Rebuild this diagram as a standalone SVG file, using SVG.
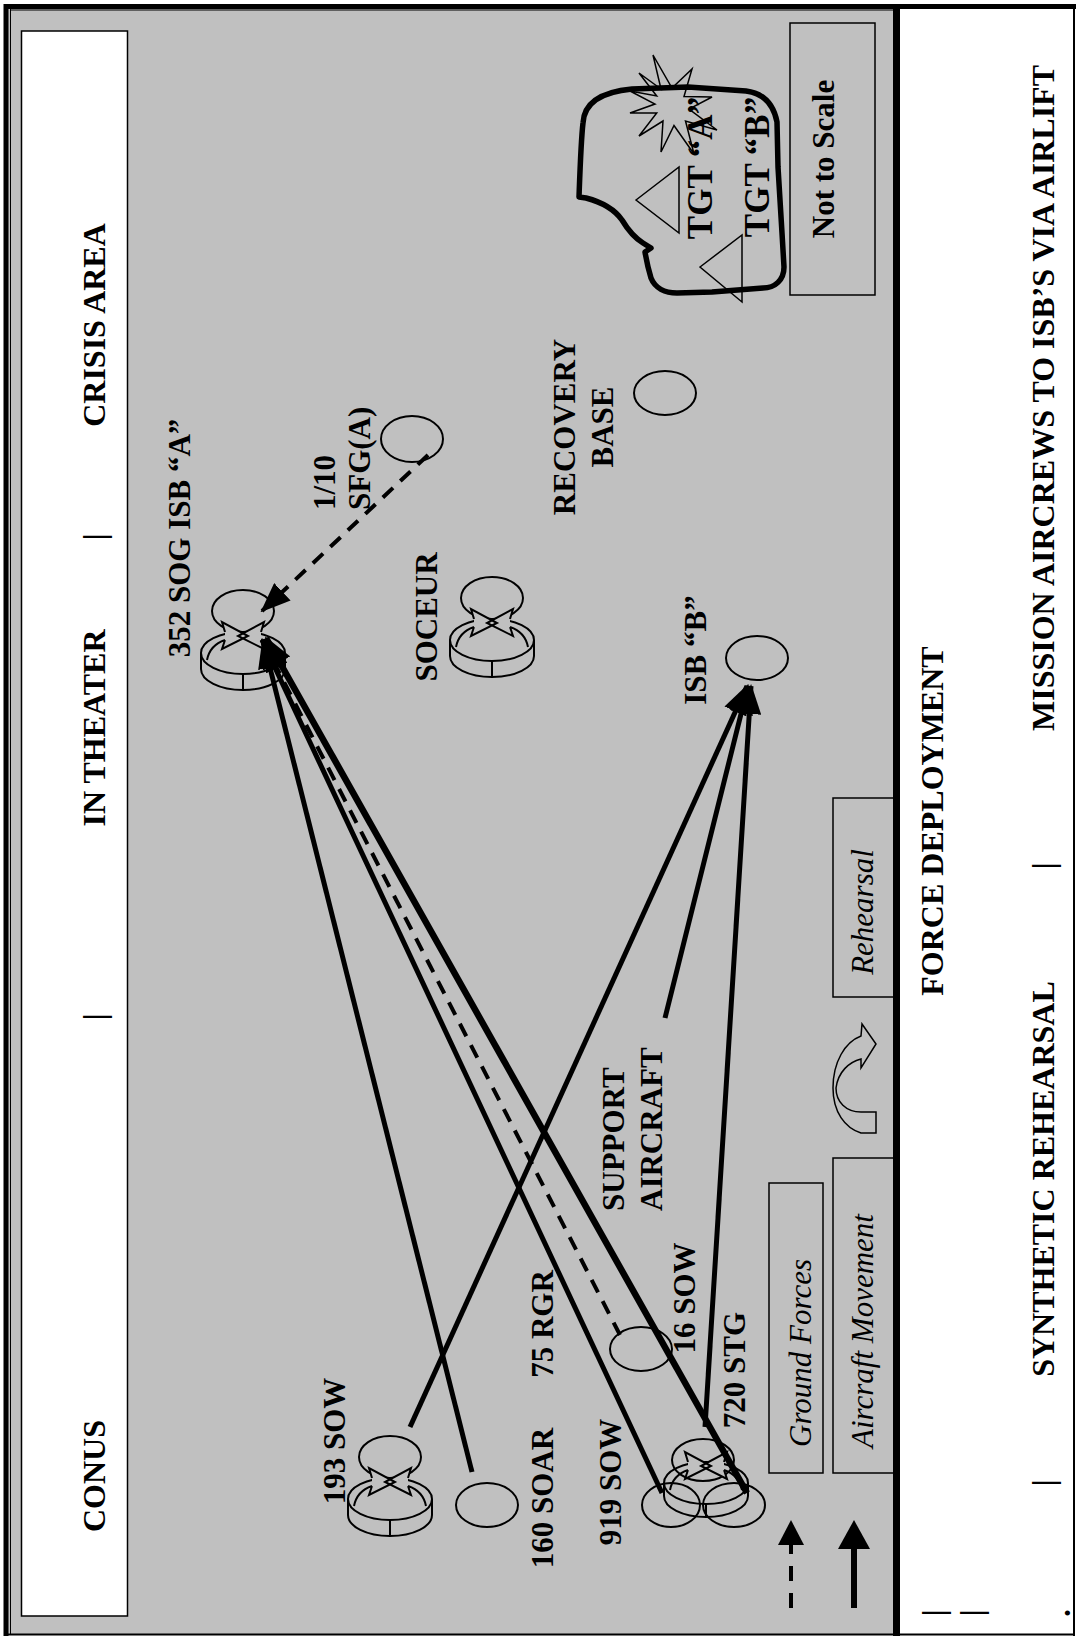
<svg xmlns="http://www.w3.org/2000/svg" width="1078" height="1638" viewBox="0 0 1078 1638">
<style>
.t{font-family:"Liberation Serif","Times New Roman",serif;font-weight:bold;font-size:31px;fill:#000}
.h{font-size:32px}
.i{font-style:italic;font-weight:normal}
.sym{fill:none;stroke:#000;stroke-width:2}
.box{fill:none;stroke:#000;stroke-width:1.5}
.sol{fill:none;stroke:#000;stroke-width:5}
.dsh{fill:none;stroke:#000;stroke-width:4;stroke-dasharray:14 10}
</style>
<defs>
<marker id="ah" viewBox="0 0 30 24" refX="28" refY="12" markerWidth="30" markerHeight="24" markerUnits="userSpaceOnUse" orient="auto"><path d="M0,0 L30,12 L0,24 Z" fill="#000"/></marker>
<g id="xarr">
<path d="M-18,-21 L-21,-31 L5,-17 L-21,-4 L-18,-13 Z M18,-21 L21,-31 L-5,-17 L21,-4 L18,-13 Z" fill="#c0c0c0" stroke="none"/>
<path d="M-18,-21 L-21,-31 L5,-17 L-21,-4 L-18,-13 M18,-21 L21,-31 L-5,-17 L21,-4 L18,-13 M-36,7 Q-33,-8 -18,-13 M36,7 Q33,-8 18,-13" fill="none" stroke="#000" stroke-width="2"/>
</g>
<g id="base">
<ellipse class="sym" cx="0" cy="-42" rx="31" ry="21"/>
<ellipse class="sym" cx="0" cy="0" rx="42" ry="21"/>
<path class="sym" d="M-42,0 V16 A42,21 0 0 0 42,16 V0 M0,21 V37"/>
<use href="#xarr"/>
</g>
</defs>

<!-- frame -->
<rect x="6" y="6" width="890" height="1628" fill="#c0c0c0"/>
<rect x="900" y="9" width="173" height="1624" fill="#fff"/>
<path d="M6,4 V1636" stroke="#000" stroke-width="5" fill="none"/>
<path d="M4,6.5 H1076" stroke="#000" stroke-width="5" fill="none"/>
<path d="M10.5,9 V1634 M10,10 H896" stroke="#000" stroke-width="1" fill="none"/>
<path d="M896.5,4 V1636" stroke="#000" stroke-width="7" fill="none"/>
<path d="M1074,4 V1636 M6,1634.5 H1075" stroke="#000" stroke-width="2" fill="none"/>

<!-- header box -->
<g id="header">
<rect x="21.5" y="31" width="106" height="1585" fill="#fff" stroke="#000" stroke-width="1.5"/>
<text class="t h" transform="translate(105,325) rotate(-90)" text-anchor="middle">CRISIS AREA</text>
<text class="t h" transform="translate(105,537) rotate(-90)" text-anchor="middle">|</text>
<text class="t h" transform="translate(105,728) rotate(-90)" text-anchor="middle">IN THEATER</text>
<text class="t h" transform="translate(105,1017) rotate(-90)" text-anchor="middle">|</text>
<text class="t h" transform="translate(105,1476) rotate(-90)" text-anchor="middle">CONUS</text>
</g>

<!-- right panel -->
<g id="phases">
<text class="t h" transform="translate(943,821) rotate(-90)" text-anchor="middle">FORCE DEPLOYMENT</text>
<text class="t h" transform="translate(1054,398) rotate(-90)" text-anchor="middle">MISSION AIRCREWS TO ISB’S VIA AIRLIFT</text>
<text class="t h" transform="translate(1054,866) rotate(-90)" text-anchor="middle">|</text>
<text class="t h" transform="translate(1054,1179) rotate(-90)" text-anchor="middle">SYNTHETIC REHEARSAL</text>
<text class="t h" transform="translate(1054,1483) rotate(-90)" text-anchor="middle">|</text>
<text class="t h" transform="translate(944,1613) rotate(-90)" text-anchor="middle">|</text>
<text class="t h" transform="translate(982,1613) rotate(-90)" text-anchor="middle">|</text>
<text class="t h" transform="translate(1070,1613) rotate(-90)" text-anchor="middle">.</text>
</g>

<!-- crisis area map -->
<g id="target-area">
<path d="M583,123 C584,104 600,92 632,89 L688,87 L746,91 C762,93 773,102 777,122 L778,167 L782,233 L784,267 C784,280 775,288 763,288 L712,292 L677,293 C665,293 655,288 651,278 C648,268 646,258 645,252 L651,248 L643,243 C635,238 628,230 622,220 C615,210 605,203 586,198 L579,197 C580,170 581,140 583,123 Z" fill="none" stroke="#000" stroke-width="5.5" stroke-linejoin="round"/>
<polygon class="box" points="653,55 672,88 692,69 684,96.5 712,97 689,109 717,130 685.5,121 694,154 674,125.5 661,152 663,121 639,136 656.7,113 630,113 655,104 630,91 656.7,96 639,73 661,89"/>
<polygon class="box" points="636,200 679,167 679,233"/>
<polygon class="box" points="700,267 742,235 742,302"/>
<text class="t" style="font-size:35px" transform="translate(712,168) rotate(-90)" text-anchor="middle">TGT “A”</text>
<text class="t" style="font-size:35px" transform="translate(769,167) rotate(-90)" text-anchor="middle">TGT “B”</text>
</g>

<g id="not-to-scale">
<rect class="box" x="790" y="23" width="85" height="272"/>
<text class="t" transform="translate(834,159) rotate(-90)" text-anchor="middle">Not to Scale</text>
</g>

<!-- nodes -->
<g id="node-352sog">
<use href="#base" x="243" y="653"/>
<text class="t" transform="translate(190,538) rotate(-90)" text-anchor="middle">352 SOG ISB “A”</text>
</g>
<g id="node-sfg">
<ellipse class="sym" cx="412" cy="439" rx="31" ry="23"/>
<text class="t" transform="translate(335,510) rotate(-90)">1/10</text>
<text class="t" transform="translate(370,510) rotate(-90)">SFG(A)</text>
</g>
<g id="node-soceur">
<use href="#base" x="492" y="640"/>
<text class="t" transform="translate(437,617) rotate(-90)" text-anchor="middle">SOCEUR</text>
</g>
<g id="node-recovery">
<ellipse class="sym" cx="665" cy="393" rx="31" ry="22"/>
<text class="t" transform="translate(575,427) rotate(-90)" text-anchor="middle">RECOVERY</text>
<text class="t" transform="translate(613,427) rotate(-90)" text-anchor="middle">BASE</text>
</g>
<g id="node-isbb">
<ellipse class="sym" cx="757" cy="658" rx="31" ry="22"/>
<text class="t" transform="translate(706,650) rotate(-90)" text-anchor="middle">ISB “B”</text>
</g>
<g id="node-support">
<text class="t" transform="translate(624,1211) rotate(-90)">SUPPORT</text>
<text class="t" transform="translate(662,1211) rotate(-90)">AIRCRAFT</text>
</g>
<g id="node-193sow">
<use href="#base" x="390" y="1499"/>
<text class="t" transform="translate(345,1441) rotate(-90)" text-anchor="middle">193 SOW</text>
</g>
<g id="node-160soar">
<ellipse class="sym" cx="487" cy="1505" rx="31" ry="22"/>
<text class="t" transform="translate(553,1498) rotate(-90)" text-anchor="middle">160 SOAR</text>
</g>
<g id="node-75rgr">
<ellipse class="sym" cx="641" cy="1349" rx="31" ry="22"/>
<text class="t" transform="translate(553,1324) rotate(-90)" text-anchor="middle">75 RGR</text>
<text class="t" transform="translate(695,1298) rotate(-90)" text-anchor="middle">16 SOW</text>
</g>
<g id="node-919sow">
<ellipse class="sym" cx="703" cy="1460" rx="31" ry="21"/>
<ellipse class="sym" cx="706" cy="1483" rx="42" ry="21"/>
<path class="sym" d="M664,1483 V1496 A42,21 0 0 0 748,1496 V1483 M706,1504 V1517"/>
<ellipse class="sym" cx="671" cy="1505" rx="29" ry="22"/>
<ellipse class="sym" cx="734" cy="1505" rx="31" ry="22"/>
<use href="#xarr" x="706" y="1483"/>
<text class="t" transform="translate(621,1482) rotate(-90)" text-anchor="middle">919 SOW</text>
<text class="t" transform="translate(745,1370) rotate(-90)" text-anchor="middle">720 STG</text>
</g>

<!-- connectors -->
<g id="connectors">
<path class="dsh" d="M428,455 L262,611" marker-end="url(#ah)"/>
<path class="sol" d="M472,1472 L263,640" marker-end="url(#ah)"/>
<path class="sol" d="M662,1493 L262,640" marker-end="url(#ah)"/>
<path class="dsh" d="M620,1335 L264,643" marker-end="url(#ah)"/>
<path class="sol" style="stroke-width:6.5" d="M747,1493 L266,638" marker-end="url(#ah)"/>
<path class="sol" d="M410,1427 L747,686" marker-end="url(#ah)"/>
<path class="sol" d="M665,1018 L748,686" marker-end="url(#ah)"/>
<path class="sol" d="M705,1427 L751,686" marker-end="url(#ah)"/>
</g>

<!-- legend -->
<g id="legend">
<rect class="box" x="769" y="1183" width="54" height="290"/>
<text class="t i" transform="translate(811,1353) rotate(-90)" text-anchor="middle">Ground Forces</text>
<rect class="box" x="833" y="1158" width="62" height="315"/>
<text class="t i" transform="translate(873,1331) rotate(-90)" text-anchor="middle">Aircraft Movement</text>
<rect class="box" x="833" y="798" width="62" height="199"/>
<text class="t i" transform="translate(873,912) rotate(-90)" text-anchor="middle">Rehearsal</text>
<path class="box" d="M876,1133 L861,1133 C845,1128 833,1112 833,1088 C833,1062 845,1042 861,1036 L862,1024 L876,1044 L861,1068 L861,1059 C849,1062 838,1072 836,1088 C836,1102 846,1112 861,1112 L876,1112 Z"/>
<path d="M791,1608 V1545" fill="none" stroke="#000" stroke-width="4" stroke-dasharray="15 12"/>
<polygon points="778,1545 804,1545 791,1520" fill="#000"/>
<path d="M854,1608 V1547" fill="none" stroke="#000" stroke-width="6"/>
<polygon points="838,1549 870,1549 854,1520" fill="#000"/>
</g>
</svg>
